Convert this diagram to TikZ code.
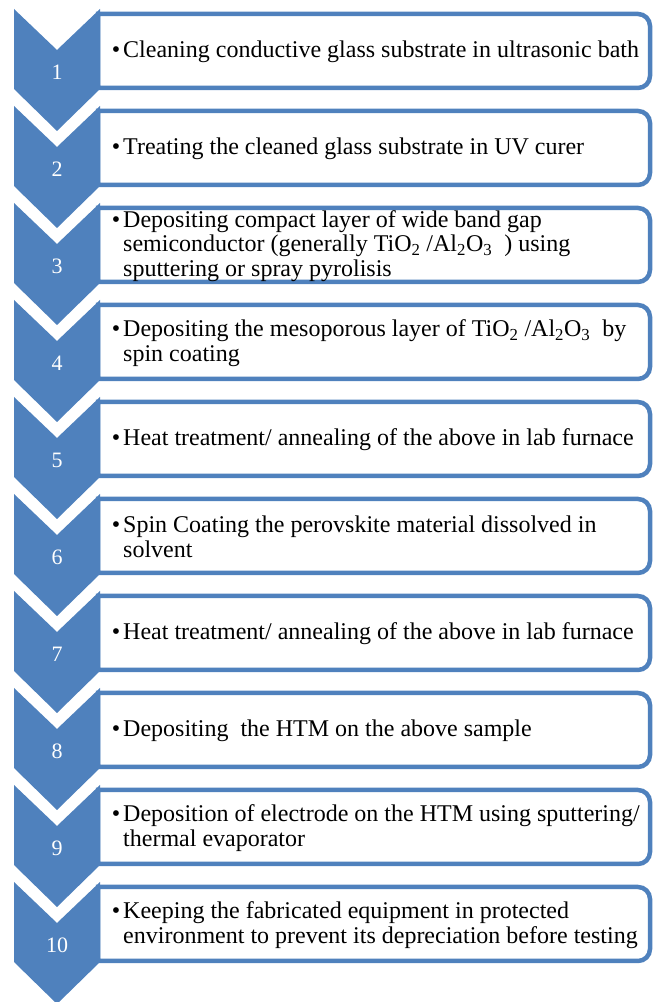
\documentclass[tikz,border=0pt]{standalone}
\usepackage{fontspec}
\setmainfont{Liberation Serif}
\usetikzlibrary{positioning}
\definecolor{stepblue}{RGB}{79,129,189}
\tikzstyle{chevron list}=[
    x=1pt, y=1pt,
    every node/.style={
        inner sep=0pt,
        align=left,
    },
    stepshape/.style={fill=stepblue},
    stepframe/.style={draw=stepblue, line width=4.5pt, fill=white},
    stepnum/.style={text=white, font=\fontsize{22}{24}\selectfont},
    steptext/.style={anchor=west, font=\fontsize{24}{24.5}\selectfont},
]
\newcommand{\bulletline}{\llap{\textbullet\hspace{3pt}}}
\newcommand{\liststep}[2]{%
    \pgfmathsetmacro{\ctop}{993-97*(#1-1)}%
    \pgfmathsetmacro{\btop}{988-97*(#1-1)}%
    \pgfmathsetmacro{\bbot}{\btop-74}%
    \pgfmathsetmacro{\bmid}{\btop-38}%
    \draw[stepframe] (98,\btop) -- (638,\btop) arc[start angle=90, end angle=0, radius=12pt]
        -- (650,\bbot+12) arc[start angle=0, end angle=-90, radius=12pt] -- (98,\bbot) -- cycle;
    \fill[stepshape] (14,\ctop) -- (57,\ctop-41) -- (100,\ctop) -- (100,\ctop-80)
        -- (57,\ctop-122) -- (14,\ctop-80) -- cycle;
    \node[stepnum] (num#1) at (57,\ctop-63) {#1};
    \node[steptext] (text#1) at (123,\bmid) {\bulletline #2};
}

\begin{document}
\begin{tikzpicture}[chevron list]
    \useasboundingbox (0,0) rectangle (654,1002);

    \liststep{1}{Cleaning conductive glass substrate in ultrasonic bath}
    \liststep{2}{Treating the cleaned glass substrate in UV curer}
    \liststep{3}{Depositing compact layer of wide band gap\\semiconductor (generally TiO\textsubscript{2} /Al\textsubscript{2}O\textsubscript{3}\ \ ) using\\sputtering or spray pyrolisis}
    \liststep{4}{Depositing the mesoporous layer of TiO\textsubscript{2} /Al\textsubscript{2}O\textsubscript{3}\ \ by\\spin coating}
    \liststep{5}{Heat treatment/ annealing of the above in lab furnace}
    \liststep{6}{Spin Coating the perovskite material dissolved in\\solvent}
    \liststep{7}{Heat treatment/ annealing of the above in lab furnace}
    \liststep{8}{Depositing\ \ the HTM on the above sample}
    \liststep{9}{Deposition of electrode on the HTM using sputtering/\\thermal evaporator}
    \liststep{10}{Keeping the fabricated equipment in protected\\environment to prevent its depreciation before testing}
\end{tikzpicture}
\end{document}
